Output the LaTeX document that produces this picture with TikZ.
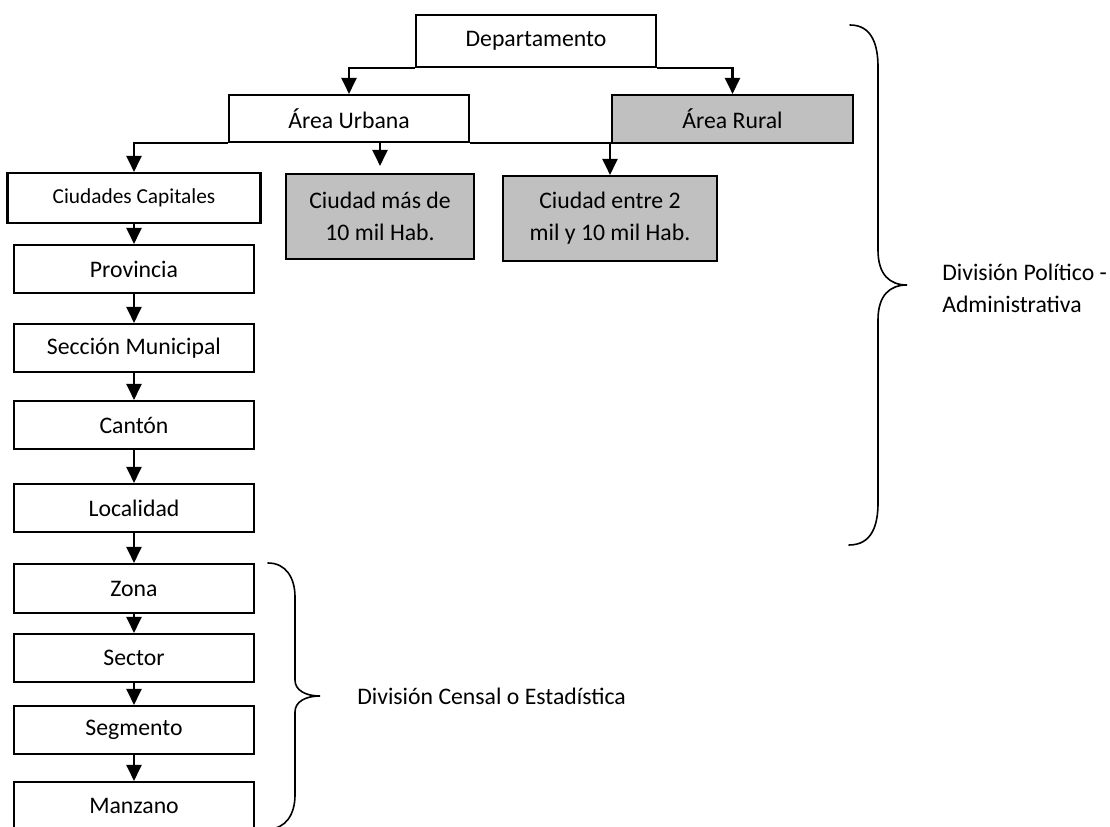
\documentclass[tikz,border=0pt]{standalone}
\usepackage{fontspec}
\setmainfont{Carlito}
\usetikzlibrary{arrows.meta}
\begin{document}
\begin{tikzpicture}[x=0.75pt,y=-0.75pt,
  box/.style={draw=black, line width=1.6pt, fill=white, inner sep=0pt,
    font=\fontsize{17.8}{24}\selectfont, align=center},
  gbox/.style={box, fill={rgb,255:red,192;green,192;blue,192}},
  colbox/.style={box, minimum width=180pt, minimum height=36pt},
  arr/.style={line width=1.9pt, -{Triangle[width=11.25pt,length=12pt]}},
  brace/.style={line width=1.2pt, line cap=round},
  lbl/.style={font=\fontsize{17.8}{24}\selectfont, inner sep=0pt, anchor=west, align=left}]
\useasboundingbox (0,0) rectangle (1110,827);

% top level
\node[box, minimum width=180pt, minimum height=39pt] (dep) at (536,41) {Departamento};
\node[box, minimum width=180pt, minimum height=35.25pt] (urb) at (349,118.5) {Área Urbana};
\node[gbox, minimum width=180.75pt, minimum height=36pt] (rur) at (732.5,119) {Área Rural};

% urban children
\node[box, minimum width=189.75pt, minimum height=37.5pt, font=\fontsize{16}{20}\selectfont] (cap) at (134,198) {Ciudades Capitales};
\node[gbox, minimum width=141pt, minimum height=63.75pt] (mas) at (380,216.5) {Ciudad más de\\10 mil Hab.};
\node[gbox, minimum width=160.5pt, minimum height=63.75pt] (ent) at (610,218.5) {Ciudad entre 2\\mil y 10 mil Hab.};

% column
\node[colbox] (prov) at (134,269) {Provincia};
\node[colbox] (sec) at (134,348) {Sección Municipal};
\node[colbox] (can) at (134,425) {Cantón};
\node[colbox] (loc) at (134,508) {Localidad};
\node[colbox, minimum height=36.75pt] (zona) at (134,588.5) {Zona};
\node[colbox] (sect) at (134,658) {Sector};
\node[colbox] (seg) at (134,730) {Segmento};
\node[colbox] (man) at (134,806) {Manzano};

% connectors
\draw[arr] (dep.south west) -| (urb.north);
\draw[arr] (dep.south east) -| (rur.north);
\draw[arr] (urb.south west) -| (cap.north);
\draw[arr, shorten >=5.25pt] (urb.south -| mas.north) -- (mas.north);
\draw[arr] (urb.south east) -| (ent.north);
\draw[arr] (cap) -- (prov);
\draw[arr] (prov) -- (sec);
\draw[arr] (sec) -- (can);
\draw[arr] (can) -- (loc);
\draw[arr] (loc) -- (zona);
\draw[arr] (zona) -- (sect);
\draw[arr] (sect) -- (seg);
\draw[arr] (seg) -- (man);

% braces
\draw[brace] (850,25) .. controls (872,25) and (878,45) .. (878,67) -- (878,250)
  .. controls (878,275) and (890,285) .. (907,285)
  .. controls (890,285) and (878,295) .. (878,320) -- (878,503)
  .. controls (878,525) and (872,545) .. (849,545);
\draw[brace] (268,563) .. controls (286,563) and (295,578) .. (295,597) -- (295,680)
  .. controls (295,690) and (305,696) .. (320,696)
  .. controls (305,696) and (295,702) .. (295,712) -- (295,795)
  .. controls (295,814) and (286,829) .. (268,829);

% labels
\node[lbl] (dpa) at (942,288) {División Político -\\Administrativa};
\node[lbl] (dce) at (357,696) {División Censal o Estadística};
\end{tikzpicture}
\end{document}
